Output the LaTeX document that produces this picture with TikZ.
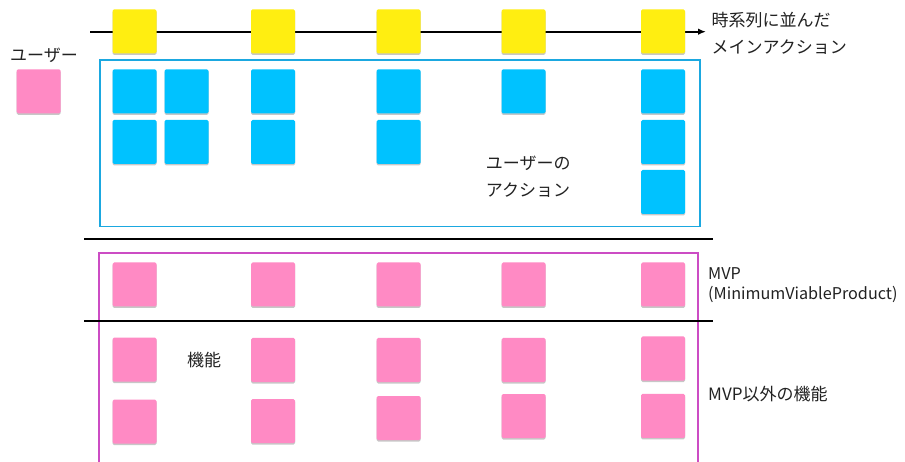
\documentclass[tikz,border=0pt]{standalone}
\usepackage{fontspec}
\setmainfont{Noto Sans CJK JP}
\usetikzlibrary{arrows.meta,shadows}
\definecolor{ylw}{HTML}{FFEE11}
\definecolor{blu}{HTML}{00C2FF}
\definecolor{pnk}{HTML}{FF8AC4}
\definecolor{bluline}{HTML}{1BA8E0}
\definecolor{pnkline}{HTML}{CC4CC4}
\definecolor{txt}{HTML}{222222}
\begin{document}
\begin{tikzpicture}[x=1pt,y=-1pt,
  card/.style={minimum size=44pt, inner sep=0pt, rounded corners=1.5pt,
    drop shadow={shadow xshift=0pt, shadow yshift=-1.5pt, opacity=0.22, fill=black}},
  ycard/.style={card, fill=ylw},
  bcard/.style={card, fill=blu},
  pcard/.style={card, fill=pnk},
  lbl/.style={font=\fontsize{17}{26.7}\selectfont, text=txt, anchor=west, align=left, inner sep=0pt},
  sep/.style={line width=2pt, black},
]
\useasboundingbox[fill=white] (0,0) rectangle (905,462);

% timeline
\coordinate (tl0) at (90,31.7);
\coordinate (tl1) at (706,31.7);
\draw[line width=2pt, -{Latex[length=8pt,width=6.5pt]}] (tl0) -- (tl1);

% main actions
\node[ycard] (y1) at (134.5,31.3) {};
\node[ycard] (y2) at (273,31.3) {};
\node[ycard] (y3) at (398.5,31.3) {};
\node[ycard] (y4) at (523.5,31.3) {};
\node[ycard] (y5) at (663,31.3) {};

% user
\node[lbl] (userlbl) at (10,55) {ユーザー};
\node[pcard] (user) at (38.7,91.3) {};

% user action box
\node[draw=bluline, line width=1.8pt, minimum width=600pt, minimum height=166.4pt,
      inner sep=0pt, anchor=north west] (ubox) at (99,59.3) {};
\node[bcard] (b11) at (134.5,91.3) {};
\node[bcard] (b12) at (186.5,91.3) {};
\node[bcard] (b13) at (273,91.3) {};
\node[bcard] (b14) at (398.5,91.3) {};
\node[bcard] (b15) at (523.5,91.3) {};
\node[bcard] (b16) at (663,91.3) {};
\node[bcard] (b21) at (134.5,142) {};
\node[bcard] (b22) at (186.5,142) {};
\node[bcard] (b23) at (273,142) {};
\node[bcard] (b24) at (398.5,142) {};
\node[bcard] (b26) at (663,142) {};
\node[bcard] (b36) at (663,192) {};
\node[lbl] (ualbl) at (485.7,176.7) {ユーザーの\\アクション};

% separators
\coordinate (s1a) at (84,239.5);
\coordinate (s1b) at (713,239.5);
\coordinate (s2a) at (84,321.5);
\coordinate (s2b) at (713,321.5);
\draw[sep] (s1a) -- (s1b);

% feature box (open at bottom)
\coordinate (f0) at (99,463);
\coordinate (f1) at (99,252.7);
\coordinate (f2) at (698.3,252.7);
\coordinate (f3) at (698.3,463);
\draw[pnkline, line width=1.8pt] (f0) -- (f1) -- (f2) -- (f3);
\draw[sep] (s2a) -- (s2b);

% MVP row
\node[pcard] (p11) at (134.5,284.5) {};
\node[pcard] (p12) at (273,284.5) {};
\node[pcard] (p13) at (398.5,284.5) {};
\node[pcard] (p14) at (523.5,284.5) {};
\node[pcard] (p15) at (663,284.5) {};
% other features
\node[pcard] (p21) at (134.5,359.7) {};
\node[pcard] (p22) at (273,360) {};
\node[pcard] (p23) at (398.5,360) {};
\node[pcard] (p24) at (523.5,360) {};
\node[pcard] (p25) at (663,358.5) {};
\node[pcard] (p31) at (134.5,421.7) {};
\node[pcard] (p32) at (273,421.2) {};
\node[pcard] (p33) at (398.5,418) {};
\node[pcard] (p34) at (523.5,416) {};
\node[pcard] (p35) at (663,415.8) {};

% labels
\node[lbl] (mainlbl) at (711.5,33.3) {時系列に並んだ\\メインアクション};
\node[lbl, font=\fontsize{16.2}{20.7}\selectfont] (mvplbl) at (708,285.3) {MVP\\(MinimumViableProduct)};
\node[lbl] (kinolbl) at (187,360) {機能};
\node[lbl] (otherlbl) at (708,394) {MVP以外の機能};
\end{tikzpicture}
\end{document}
